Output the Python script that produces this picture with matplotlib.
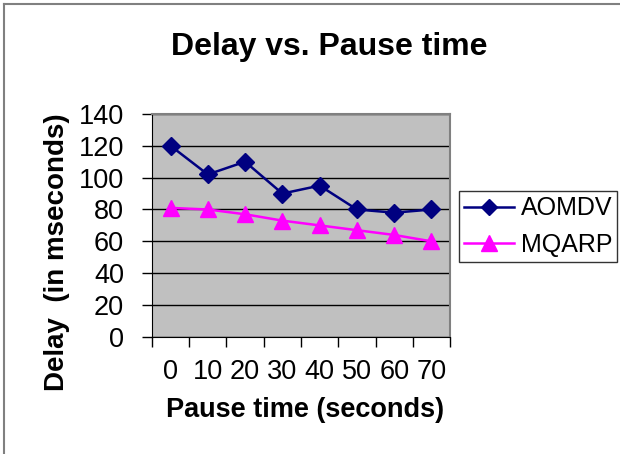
import matplotlib
matplotlib.use("Agg")
import matplotlib.pyplot as plt
from matplotlib.lines import Line2D

pause_time = [0, 10, 20, 30, 40, 50, 60, 70]
aomdv = [120, 102, 110, 90, 95, 80, 78, 80]
mqarp = [81, 80, 77, 73, 70, 67, 64, 60]
y_ticks = [0, 20, 40, 60, 80, 100, 120, 140]

NAVY, MAGENTA, PLOT_GREY = "#000080", "#ff00ff", "#c0c0c0"
plt.rcParams["font.family"] = ["Liberation Sans", "DejaVu Sans"]

fig = plt.figure(figsize=(6.2, 4.54), dpi=100)
ax = fig.add_axes([0.245, 0.258, 0.481, 0.491])
ax.set_facecolor(PLOT_GREY)

pos = list(range(len(pause_time)))
ax.plot(pos, aomdv, color=NAVY, lw=1.8, marker="D", ms=9, mfc=NAVY, mec=NAVY,
        label="AOMDV", zorder=3)
ax.plot(pos, mqarp, color=MAGENTA, lw=1.8, marker="^", ms=11.5, mfc=MAGENTA, mec=MAGENTA,
        label="MQARP", zorder=3)

ax.set_xlim(-0.5, len(pause_time) - 0.5)
ax.set_ylim(0, 140)
ax.set_yticks(y_ticks)
ax.set_yticklabels([str(v) for v in y_ticks], fontsize=19.5)
ax.yaxis.grid(True, color="black", lw=1)
ax.set_axisbelow(True)

# category axis: ticks on boundaries, labels at centres
ax.set_xticks([p - 0.5 for p in pos] + [len(pos) - 0.5])
ax.set_xticklabels([])
ax.set_xticks(pos, minor=True)
ax.set_xticklabels([str(v) for v in pause_time], minor=True, fontsize=19.5)
ax.tick_params(axis="x", which="minor", length=0, pad=16)
ax.tick_params(axis="x", which="major", direction="out", length=7, width=1)
ax.tick_params(axis="y", direction="out", length=7, width=1, pad=13)

for s in ("top", "right"):
    ax.spines[s].set_color("#808080")
    ax.spines[s].set_linewidth(1.5)
for s in ("left", "bottom"):
    ax.spines[s].set_color("black")

fig.text(329 / 620, 1 - 55 / 454, "Delay vs. Pause time", ha="center", va="baseline",
         fontsize=23, fontweight="bold")
fig.text(305 / 620, 1 - 417 / 454, "Pause time (seconds)", ha="center", va="baseline",
         fontsize=19.5, fontweight="bold")
fig.text(57.5 / 620, 1 - 252 / 454, "Delay  (in mseconds)", ha="center", va="center",
         rotation=90, fontsize=20, fontweight="bold")

leg = fig.legend(handles=[
    Line2D([], [], color=NAVY, lw=1.8, marker="D", ms=8, label="AOMDV"),
    Line2D([], [], color=MAGENTA, lw=1.8, marker="^", ms=11, label="MQARP")],
    loc="center", bbox_to_anchor=(538 / 620, 1 - 226.5 / 454),
    fontsize=18, frameon=True, fancybox=False, edgecolor="black",
    handlelength=2.0, handletextpad=0.28, borderpad=0.2, labelspacing=0.5,
    borderaxespad=0)
leg.get_frame().set_linewidth(1)

# chart border (only top and left edges visible in the reference)
fig.add_artist(Line2D([4 / 620, 1], [1 - 4 / 454] * 2, color="#808080", lw=1.5,
                      transform=fig.transFigure))
fig.add_artist(Line2D([4 / 620] * 2, [0, 1 - 4 / 454], color="#808080", lw=1.5,
                      transform=fig.transFigure))

fig.savefig("out.png", dpi=100)
